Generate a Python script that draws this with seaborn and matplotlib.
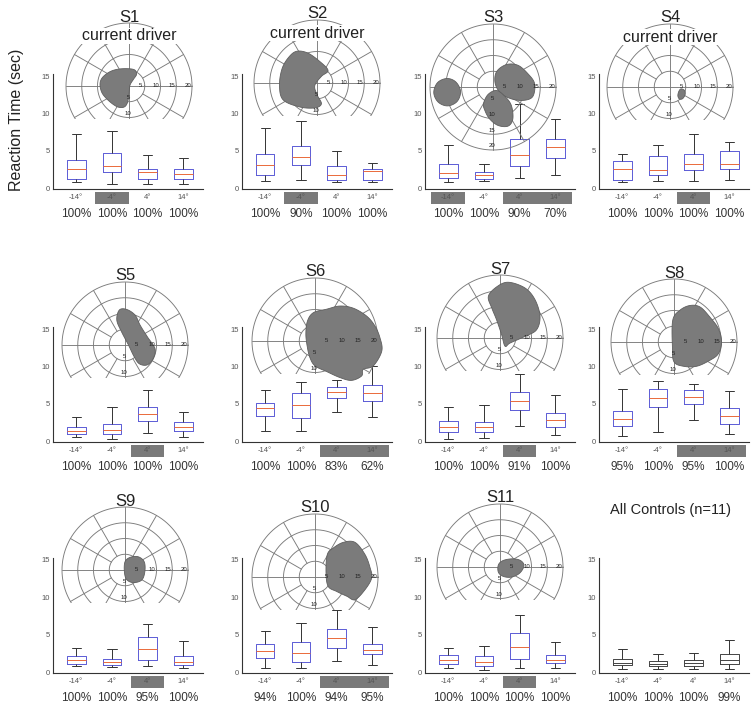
import numpy as np
import pandas as pd
import matplotlib
matplotlib.use("Agg")
import matplotlib.pyplot as plt
from matplotlib.patches import Polygon, Rectangle
import seaborn as sns

sns.set_theme(style="white")
plt.rcParams["font.family"] = ["Liberation Sans", "DejaVu Sans"]

W, H = 752, 711

subjects = ["S1", "S2", "S3", "S4", "S5", "S6", "S7", "S8", "S9", "S10", "S11",
            "All Controls (n=11)"]
positions = ["-14°", "-4°", "4°", "14°"]

# reaction-time box statistics (sec), one row per subject, one column per position
whisker_low = [
    [0.8, 0.6, 0.5, 0.5], [0.9, 1.1, 0.8, 0.8], [0.8, 1.0, 1.3, 1.7], [0.8, 0.9, 1.0, 1.1],
    [0.5, 0.3, 1.1, 0.5], [1.3, 1.4, 3.9, 3.2], [0.3, 0.4, 2.0, 0.8], [0.7, 1.2, 2.8, 1.0],
    [0.75, 0.65, 0.75, 0.55], [0.5, 0.5, 1.5, 1.0], [0.6, 0.3, 0.5, 0.5], [0.45, 0.35, 0.45, 0.45],
]
q1 = [
    [1.2, 2.2, 1.2, 1.2], [1.7, 3.1, 1.1, 1.1], [1.4, 1.2, 3.0, 4.0], [1.1, 1.7, 2.4, 2.6],
    [0.9, 1.0, 2.7, 1.3], [3.4, 3.1, 5.7, 5.4], [1.2, 1.2, 4.2, 1.9], [2.0, 4.5, 4.9, 2.3],
    [1.1, 0.9, 1.65, 1.0], [1.9, 1.3, 3.2, 2.4], [1.1, 0.8, 1.7, 1.2], [0.9, 0.75, 0.8, 1.1],
]
median = [
    [2.6, 2.9, 2.1, 1.9], [3.1, 4.2, 1.8, 2.3], [2.0, 1.8, 4.4, 5.5], [2.6, 2.4, 3.2, 3.2],
    [1.3, 1.5, 3.6, 1.9], [4.4, 4.8, 6.6, 6.4], [1.9, 1.9, 5.4, 2.8], [2.9, 5.7, 5.9, 3.3],
    [1.65, 1.35, 3.1, 1.4], [2.8, 2.5, 4.6, 3.0], [1.6, 1.4, 3.4, 1.6], [1.25, 1.1, 1.2, 1.55],
]
q3 = [
    [3.8, 4.7, 2.6, 2.6], [4.5, 5.6, 3.0, 2.6], [3.2, 2.2, 6.5, 6.5], [3.6, 4.3, 4.5, 5.0],
    [1.9, 2.3, 4.6, 2.6], [5.1, 6.4, 7.3, 7.5], [2.7, 2.5, 6.6, 3.7], [4.0, 7.0, 6.8, 4.4],
    [2.1, 1.75, 4.75, 2.2], [3.8, 4.0, 5.7, 3.8], [2.3, 2.2, 5.2, 2.3], [1.8, 1.45, 1.55, 2.45],
]
whisker_high = [
    [7.3, 7.6, 4.4, 4.0], [8.1, 9.0, 5.0, 3.3], [5.8, 3.2, 11.3, 9.3], [4.6, 5.8, 7.3, 6.2],
    [3.2, 4.5, 6.8, 3.9], [6.9, 7.9, 8.15, 10.1], [4.5, 4.8, 9.0, 6.2], [7.0, 8.1, 7.6, 6.7],
    [3.2, 3.1, 6.4, 4.1], [5.5, 6.5, 8.3, 6.0], [3.2, 3.5, 7.6, 4.0], [3.1, 2.35, 2.6, 4.3],
]
percent_correct = [
    [100, 100, 100, 100], [100, 90, 100, 100], [100, 100, 90, 70], [100, 100, 100, 100],
    [100, 100, 100, 100], [100, 100, 83, 62], [100, 100, 91, 100], [95, 100, 95, 100],
    [100, 100, 95, 100], [94, 100, 94, 95], [100, 100, 100, 100], [100, 100, 100, 99],
]
# positions falling inside the scotoma (index into positions)
highlighted = [[1], [1], [0, 2, 3], [2], [2], [2, 3], [2], [2, 3], [2], [2, 3], [2], []]
current_driver = ["S1", "S2", "S4"]

# scotoma outlines in visual-field degrees (x = horizontal, y = vertical)
scotoma = {
    "S1": [[(-9.2, 0.5), (-8.5, 2.6), (-6.3, 4.4), (-3.7, 5.3), (-0.5, 5.5), (1.8, 5.1),
            (2.4, 3.7), (1.4, 2.1), (0.3, 0.2), (0.0, -2.6), (-0.5, -5.3), (-1.6, -6.7),
            (-3.7, -6.6), (-6.3, -4.8), (-8.5, -2.3)]],
    "S2": [[(-6.3, 10.1), (-2.9, 9.5), (0.8, 6.9), (3.5, 4.0), (1.4, 2.1), (-0.7, -0.8),
            (0.0, -3.7), (1.4, -6.6), (-0.7, -7.9), (-5.5, -7.6), (-10.8, -5.3),
            (-11.9, -0.5), (-11.0, 4.8), (-8.7, 8.5)]],
    "S3": [[(-14.6, 2.7), (-11.8, 1.6), (-10.3, -1.4), (-11.4, -4.6), (-14.4, -6.0),
            (-17.4, -4.8), (-18.8, -1.8), (-17.6, 1.4)],
           [(1.1, 4.8), (4.2, 7.1), (7.9, 6.9), (11.1, 4.2), (13.2, 1.1), (12.7, -2.9),
            (10.1, -4.2), (6.3, -3.9), (2.6, -2.1), (0.7, 1.1)],
           [(-3.0, -5.3), (-1.6, -2.4), (1.1, -1.1), (3.7, -2.9), (5.8, -5.8), (6.3, -10.1),
            (4.8, -12.4), (1.6, -12.2), (-1.1, -10.1), (-2.6, -7.4)]],
    "S4": [[(3.5, -0.6), (4.6, -1.1), (4.8, -2.4), (4.0, -3.7), (3.0, -3.8), (2.5, -2.8),
            (2.8, -1.4)]],
    "S5": [[(-1.8, 11.1), (0.5, 11.3), (3.2, 9.5), (4.8, 6.3), (7.1, 2.6), (9.5, -1.1),
            (9.0, -4.2), (7.1, -6.3), (4.6, -6.0), (2.9, -3.7), (1.1, 0.0), (-1.1, 4.2),
            (-2.6, 7.9)]],
    "S6": [[(-2.4, 6.3), (-0.5, 9.0), (3.7, 10.1), (7.9, 11.1), (12.2, 10.4), (16.4, 7.9),
            (19.0, 4.8), (20.6, 1.1), (21.2, -3.2), (18.5, -7.9), (15.3, -9.0), (14.8, -11.1),
            (11.6, -12.5), (7.9, -11.6), (3.7, -9.7), (0.0, -7.9), (-1.6, -5.3), (-2.4, -2.1),
            (-2.9, 2.1)]],
    "S7": [[(-3.7, 13.2), (-1.1, 16.2), (2.6, 17.7), (7.9, 15.9), (11.1, 12.2), (12.7, 6.9),
            (11.6, 2.6), (7.9, 0.5), (3.2, -1.6), (1.6, -2.6), (0.5, 1.1), (-1.1, 5.8),
            (-2.6, 9.5)]],
    "S8": [[(-0.4, 6.9), (1.9, 10.1), (5.1, 11.6), (8.3, 11.1), (11.4, 7.9), (14.1, 4.2),
            (15.1, 0.0), (14.1, -3.7), (11.4, -5.8), (7.2, -7.7), (3.0, -7.7), (0.0, -6.3),
            (-0.5, -1.6)]],
    "S9": [[(0.0, 2.6), (1.6, 4.0), (4.2, 4.2), (6.1, 2.6), (6.3, -0.5), (5.3, -3.2),
            (2.6, -4.0), (0.5, -3.0), (-0.2, -0.5)]],
    "S10": [[(3.9, 7.1), (5.8, 9.2), (9.0, 11.0), (12.7, 11.0), (15.9, 7.1), (17.5, 2.9),
             (18.0, -0.3), (15.9, -4.0), (12.7, -7.2), (10.1, -6.1), (6.9, -4.6), (4.2, -3.0),
             (3.5, 1.3)]],
    "S11": [[(-0.5, 0.7), (1.1, 2.1), (4.2, 2.6), (6.6, 2.0), (7.6, 0.4), (6.3, -1.9),
             (3.7, -3.2), (1.1, -3.0), (-0.5, -1.7)]],
}
full_field = ["S3"]

# long-form table: five values per box reproduce its whiskers, quartiles and median
rows = []
for i, s in enumerate(subjects):
    for j, p in enumerate(positions):
        for v in (whisker_low[i][j], q1[i][j], median[i][j], q3[i][j], whisker_high[i][j]):
            rows.append((s, p, v))
df = pd.DataFrame(rows, columns=["subject", "position", "rt"])

fig = plt.figure(figsize=(W / 100, H / 100), dpi=100)


def px_axes(left, top, w, h, **kw):
    return fig.add_axes([left / W, 1 - (top + h) / H, w / W, h / H], **kw)


def smooth_closed(pts, n=10):
    P = np.asarray(pts, float)
    m = len(P)
    t = np.linspace(0, 1, n, endpoint=False)[:, None]
    out = []
    for i in range(m):
        p0, p1, p2, p3 = P[i - 1], P[i], P[(i + 1) % m], P[(i + 2) % m]
        out.append(0.5 * (2 * p1 + (-p0 + p2) * t + (2 * p0 - 5 * p1 + 4 * p2 - p3) * t ** 2
                          + (-p0 + 3 * p1 - 3 * p2 + p3) * t ** 3))
    return np.vstack(out)


def draw_field(ax, outlines, full):
    gc = "#7a7a7a"
    lw = 0.65
    th = np.linspace(0, 2 * np.pi, 361)
    for r in (5, 10, 15, 20):
        ax.plot(r * np.cos(th), r * np.sin(th), color=gc, lw=lw, zorder=2)
    for a in range(30, 360, 30):
        if a % 90 == 0:
            continue
        ar = np.deg2rad(a)
        ax.plot([5 * np.cos(ar), 20 * np.cos(ar)], [5 * np.sin(ar), 20 * np.sin(ar)],
                color=gc, lw=lw, zorder=2)
    ax.plot([-20, 20], [0, 0], color=gc, lw=lw, zorder=2)
    ax.plot([0, 0], [-20, 20], color=gc, lw=lw, zorder=2)
    for outline in outlines:
        xy = smooth_closed(outline)
        ax.add_patch(Polygon(xy, closed=True, facecolor="#7b7b7b", edgecolor="#5e5e5e",
                             lw=0.6, zorder=3, clip_on=False))
    lab = dict(fontsize=4.3, color="#222", ha="center", va="center", zorder=4)
    for r in (5, 10, 15, 20):
        ax.text(r - 1.4, 0.2, str(r), **lab)
    below = (5, 10, 15, 20) if full else (5, 10)
    for r in below:
        ax.text(-0.3, -(r - 1.3), str(r), **lab)


ppd = 3.15                      # pixels per degree of visual field
col_left = [53, 242, 425, 599]  # x of each y-axis (px)
row_y15 = [76, 329, 560]        # y of the 15 s gridline (px)
# field-diagram centre relative to the y-axis / 15 s line of its panel (px)
field_dx = [76, 75, 68, 71, 72, 73, 75, 75, 72, 73, 75]
field_dy = [10, 7, 11, 11, 16, 12, 9, 13, 10, 17, 7]
box_blue = "#5b5bd6"
med_red = "#ea6a3a"

for k, s in enumerate(subjects):
    r, c = divmod(k, 4)
    x0, y15 = col_left[c], row_y15[r]
    ax_h = 15.45 * 7.47
    ax = px_axes(x0, y15 - 0.3 * 7.47, 150, ax_h)
    ax.patch.set_alpha(0)
    sub = df[df["subject"] == s]
    is_ctrl = s.startswith("All")
    edge = "#444444" if is_ctrl else box_blue
    med = "#444444" if is_ctrl else med_red
    sns.boxplot(data=sub, x="position", y="rt", order=positions, ax=ax, whis=(0, 100),
                width=0.52, fill=False, linewidth=0.7, showfliers=False, linecolor="#222",
                boxprops=dict(color=edge), medianprops=dict(color=med),
                whiskerprops=dict(color="#333"), capprops=dict(color="#333"))
    ax.set_xlim(-0.65, 3.55)
    ax.set_ylim(-0.15, 15.3)
    ax.set_yticks([0, 5, 10, 15])
    ax.set_xticks(range(4))
    ax.set_xticklabels(positions)
    ax.set_xlabel("")
    ax.set_ylabel("")
    ax.tick_params(axis="both", direction="in", length=2, width=0.6, colors="#444",
                   labelsize=5.5, labelcolor="#555")
    ax.tick_params(axis="x", pad=3.5)
    ax.tick_params(axis="y", pad=2)
    for side in ("top", "right"):
        ax.spines[side].set_visible(False)
    for side in ("left", "bottom"):
        ax.spines[side].set_color("#333")
        ax.spines[side].set_linewidth(0.8)
    ax.grid(False)

    # highlight of positions inside the scotoma, merged when adjacent
    hl = highlighted[k]
    groups = []
    for j in hl:
        if groups and groups[-1][-1] == j - 1:
            groups[-1].append(j)
        else:
            groups.append([j])
    for g in groups:
        ax.add_patch(Rectangle((g[0] - 0.47, -14.5 / ax_h), (g[-1] - g[0]) + 0.94, 11.5 / ax_h,
                               transform=ax.get_xaxis_transform(), clip_on=False,
                               facecolor="#7a7a7a", edgecolor="none", zorder=0.5))
    for j, p in enumerate(percent_correct[k]):
        ax.text(j, -24.5 / ax_h, f"{p}%", transform=ax.get_xaxis_transform(),
                ha="center", va="center", fontsize=8.5, color="#333")

    if is_ctrl:
        fig.text((x0 + 72) / W, 1 - (y15 - 50) / H, s, ha="center", va="center",
                 fontsize=10.5, color="#222")
        continue

    cx, cy = x0 + field_dx[k], y15 + field_dy[k]
    full = s in full_field
    ylo = -21 if full else -10.6
    pax = px_axes(cx - 21 * ppd, cy - 21 * ppd, 42 * ppd, (21 - ylo) * ppd)
    pax.set_xlim(-21, 21)
    pax.set_ylim(ylo, 21)
    pax.axis("off")
    pax.patch.set_alpha(0)
    draw_field(pax, scotoma[s], full)

    fig.text(cx / W, 1 - (cy - 69) / H, s, ha="center", va="center",
             fontsize=12, color="#222")
    if s in current_driver:
        fig.text(cx / W, 1 - (cy - 50) / H, "current driver", ha="center", va="center",
                 fontsize=11.5, color="#222",
                 bbox=dict(facecolor="white", edgecolor="none", pad=0.3))

fig.text(17 / W, 1 - 120 / H, "Reaction Time (sec)", rotation=90, ha="center",
         va="center", fontsize=11.5, color="#222")

fig.savefig("out.png", dpi=100)
